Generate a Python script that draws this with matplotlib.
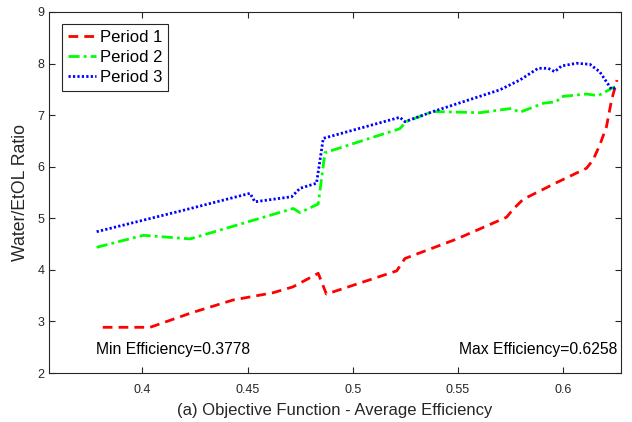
import matplotlib
matplotlib.use("Agg")
import matplotlib.pyplot as plt

plt.rcParams['font.family'] = ['Liberation Sans', 'DejaVu Sans']

# Period 1 (red, dashed)
p1_x = [0.3812, 0.4037, 0.4236, 0.4431, 0.4621, 0.4716, 0.4836, 0.4875, 0.5209, 0.5248,
        0.5494, 0.5731, 0.5762, 0.5810, 0.5968, 0.6111, 0.6142, 0.6174, 0.6206, 0.6230, 0.6256]
p1_y = [2.886, 2.886, 3.17, 3.415, 3.556, 3.67, 3.933, 3.53, 3.98, 4.22,
        4.598, 5.02, 5.174, 5.368, 5.69, 5.97, 6.13, 6.42, 6.776, 7.29, 7.68]

# Period 2 (green, dash-dot)
p2_x = [0.3783, 0.4005, 0.4227, 0.4717, 0.4749, 0.4836, 0.4868, 0.5224, 0.5253, 0.5382,
        0.5604, 0.5755, 0.5794, 0.5905, 0.5968, 0.5992, 0.6111, 0.6166, 0.6253]
p2_y = [4.437, 4.67, 4.60, 5.19, 5.11, 5.277, 6.272, 6.737, 6.873, 7.07,
        7.047, 7.13, 7.055, 7.23, 7.26, 7.36, 7.41, 7.377, 7.565]

# Period 3 (blue, dotted)
p3_x = [0.3783, 0.4200, 0.4512, 0.4535, 0.4710, 0.4749, 0.4828, 0.4860, 0.5224, 0.5248,
        0.5382, 0.5699, 0.5794, 0.5881, 0.5929, 0.5960, 0.5992, 0.6063, 0.6127, 0.6174,
        0.6230, 0.6253]
p3_y = [4.74, 5.16, 5.484, 5.32, 5.418, 5.58, 5.68, 6.55, 6.958, 6.873,
        7.07, 7.49, 7.68, 7.908, 7.908, 7.842, 7.953, 8.005, 7.986, 7.84,
        7.50, 7.54]

labels = ['Period 1', 'Period 2', 'Period 3']
x_ticks = [0.4, 0.45, 0.5, 0.55, 0.6]
x_tick_labels = ['0.4', '0.45', '0.5', '0.55', '0.6']
y_ticks = [2, 3, 4, 5, 6, 7, 8, 9]
min_eff = 0.3778
max_eff = 0.6258

fig = plt.figure(figsize=(6.32, 4.22), dpi=100)
ax = fig.add_axes([0.078, 0.1161, 0.9046, 0.8555])

lw = 2.0
ax.plot(p1_x, p1_y, color=(1, 0, 0), lw=lw, dashes=(3.5, 2.2), label=labels[0])
ax.plot(p2_x, p2_y, color=(0, 1, 0), lw=lw, dashes=(4, 1.5, 1, 1.5), label=labels[1])
ax.plot(p3_x, p3_y, color=(0, 0, 1), lw=lw, dashes=(0.8, 0.8), label=labels[2])

ax.set_xlim(0.3558, 0.6275)
ax.set_ylim(2, 9)
ax.set_xticks(x_ticks)
ax.set_xticklabels(x_tick_labels)
ax.set_yticks(y_ticks)
ax.tick_params(direction='in', top=True, right=True, length=4, width=0.8,
               colors='#262626', labelsize=9, labelcolor='#262626')
ax.tick_params(axis='x', pad=8)
for s in ax.spines.values():
    s.set_color('#262626')
    s.set_linewidth(0.8)

ax.set_xlabel('(a) Objective Function - Average Efficiency', fontsize=12,
              color='#262626', labelpad=5)
ax.set_ylabel('Water/EtOL Ratio', fontsize=12.7, color='#262626', labelpad=6)

ax.text(0.378, 2.45, 'Min Efficiency=%.4f' % min_eff, fontsize=11.3, ha='left', va='center')
ax.text(0.6255, 2.45, 'Max Efficiency=%.4f' % max_eff, fontsize=11.3, ha='right', va='center')

leg = ax.legend(loc='upper left', fontsize=12, frameon=True, fancybox=False,
                edgecolor='#262626', framealpha=1, borderaxespad=0.75,
                handlelength=1.7, handletextpad=0.25, borderpad=0.35, labelspacing=0.3)
leg.get_frame().set_linewidth(0.8)

fig.savefig('out.png', dpi=100)
